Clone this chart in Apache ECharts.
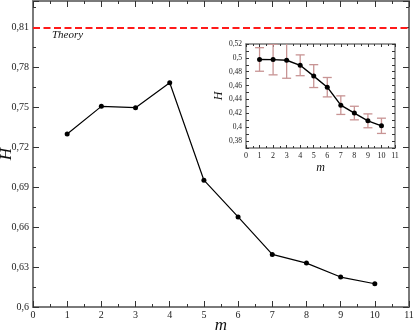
<!DOCTYPE html>
<html><head><meta charset="utf-8">
<script src="https://cdn.jsdelivr.net/npm/echarts@6/dist/echarts.min.js"></script>
<style>html,body{margin:0;padding:0;background:#fff}#c{width:415px;height:332px}</style>
</head><body><div id="c"></div>
<script>
const mValues = [1, 2, 3, 4, 5, 6, 7, 8, 9, 10];
const mainH = [0.730, 0.7508, 0.7498, 0.7685, 0.6953, 0.6677, 0.6395, 0.633, 0.6225, 0.6175];
const theoryH = 0.8122;
const insetH = [0.4977, 0.4975, 0.4966, 0.4893, 0.4737, 0.4577, 0.4318, 0.4204, 0.4092, 0.402];
const insetErr = [0.017, 0.022, 0.026, 0.015, 0.0165, 0.014, 0.0134, 0.0098, 0.010, 0.011];

const FONT = 'Liberation Serif';
const frame = '#7a7a7a';
const tickC = '#333';
const fmt = v => String(Math.round(v * 100) / 100).replace('.', ',');

function xAx(grid, pos, show, fs, name) {
  return {
    type: 'value', gridIndex: grid, position: pos, min: 0, max: 11, interval: 1,
    name: name || '', nameLocation: 'middle', nameGap: grid === 0 ? 10 : 14, nameMoveOverlap: false,
    nameTextStyle: {fontFamily: FONT, fontStyle: 'italic', fontSize: grid === 0 ? 17 : 12, color: '#111'},
    axisLine: {show: true, onZero: false, lineStyle: {color: frame, width: grid === 0 ? 2 : 1.5}},
    axisTick: {show: true, inside: true, length: grid === 0 ? 6 : 3, lineStyle: {color: tickC, width: 1}},
    minorTick: {show: true, splitNumber: 2, length: grid === 0 ? 3 : 2, lineStyle: {color: tickC, width: 1}},
    axisLabel: {show: show, fontFamily: FONT, fontSize: fs, color: '#222', margin: grid === 0 ? 3 : 4},
    splitLine: {show: false}
  };
}
function yAx(grid, pos, show, min, max, interval, fs, name, labelFmt) {
  return {
    type: 'value', gridIndex: grid, position: pos, min: min, max: max, interval: interval,
    name: name || '', nameLocation: 'middle', nameGap: grid === 0 ? 18 : 21, nameRotate: 90, nameMoveOverlap: false,
    nameTextStyle: {fontFamily: FONT, fontStyle: 'italic', fontSize: grid === 0 ? 17 : 12, color: '#111'},
    axisLine: {show: true, onZero: false, lineStyle: {color: frame, width: grid === 0 ? 2 : 1.5}},
    axisTick: {show: true, inside: true, length: grid === 0 ? 6 : 3, lineStyle: {color: tickC, width: 1}},
    minorTick: {show: grid === 0, splitNumber: 2, length: 3, lineStyle: {color: tickC, width: 1}},
    axisLabel: {show: show, fontFamily: FONT, fontSize: fs, color: '#222', margin: 4,
      showMaxLabel: grid === 0 ? false : true, formatter: labelFmt},
    splitLine: {show: false}
  };
}

const insetFmt = v => (Math.round(v * 100) % 2 === 0 ? fmt(v) : '');

const chart = echarts.init(document.getElementById('c'), null, {renderer: 'canvas'});
chart.setOption({
  animation: false,
  backgroundColor: '#fff',
  grid: [
    {left: 33, top: 1, width: 376, height: 306, containLabel: false, outerBoundsMode: 'none'},
    {left: 246, top: 44, width: 149, height: 104, show: true, backgroundColor: '#fff', borderWidth: 0, containLabel: false, outerBoundsMode: 'none'}
  ],
  xAxis: [
    xAx(0, 'bottom', true, 10, 'm'),
    xAx(0, 'top', false, 10),
    xAx(1, 'bottom', true, 8, 'm'),
    xAx(1, 'top', false, 8)
  ],
  yAxis: [
    yAx(0, 'left', true, 0.6, 0.83, 0.03, 10, 'H', fmt),
    yAx(0, 'right', false, 0.6, 0.83, 0.03, 10),
    yAx(1, 'left', true, 0.37, 0.52, 0.01, 7.5, 'H', insetFmt),
    yAx(1, 'right', false, 0.37, 0.52, 0.01, 7.5)
  ],
  graphic: [
    {type: 'text', left: 52, top: 30, style: {text: 'Theory', fontFamily: FONT, fontStyle: 'italic', fontSize: 11, fill: '#111'}}
  ],
  series: [
    {
      type: 'line', xAxisIndex: 0, yAxisIndex: 0,
      data: mValues.map((m, i) => [m, mainH[i]]),
      symbol: 'circle', symbolSize: 5, showSymbol: true,
      lineStyle: {color: '#000', width: 1.2}, itemStyle: {color: '#000'},
      markLine: {
        silent: true, symbol: 'none', label: {show: false},
        lineStyle: {color: '#ff1a1a', width: 2, type: [7, 3.5]},
        data: [{yAxis: theoryH}]
      }
    },
    {
      type: 'custom', xAxisIndex: 2, yAxisIndex: 2, clip: true, z: 1,
      data: mValues.map((m, i) => [m, insetH[i] - insetErr[i], insetH[i] + insetErr[i]]),
      renderItem: function (params, api) {
        const lo = api.coord([api.value(0), api.value(1)]);
        const hi = api.coord([api.value(0), api.value(2)]);
        const w = 4.5;
        const st = {stroke: '#c89494', lineWidth: 1.3};
        return {type: 'group', children: [
          {type: 'line', shape: {x1: lo[0], y1: lo[1], x2: hi[0], y2: hi[1]}, style: st},
          {type: 'line', shape: {x1: lo[0] - w, y1: lo[1], x2: lo[0] + w, y2: lo[1]}, style: st},
          {type: 'line', shape: {x1: hi[0] - w, y1: hi[1], x2: hi[0] + w, y2: hi[1]}, style: st}
        ]};
      }
    },
    {
      type: 'line', xAxisIndex: 2, yAxisIndex: 2, z: 3,
      data: mValues.map((m, i) => [m, insetH[i]]),
      symbol: 'circle', symbolSize: 5, showSymbol: true,
      lineStyle: {color: '#000', width: 1.4}, itemStyle: {color: '#000'}
    }
  ]
});
</script>
</body></html>
